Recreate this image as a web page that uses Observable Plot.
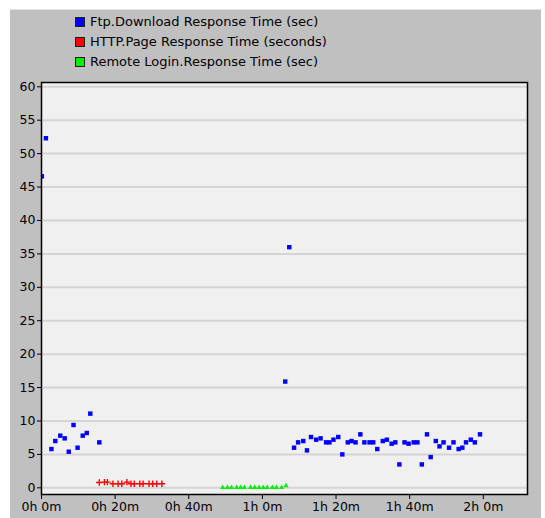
<!DOCTYPE html>
<html>
<head>
<meta charset="utf-8">
<script src="https://cdn.jsdelivr.net/npm/d3@7"></script>
<script src="https://cdn.jsdelivr.net/npm/@observablehq/plot@0.6"></script>
<style>
  html, body { margin: 0; padding: 0; background: #ffffff; }
  #page { position: relative; width: 545px; height: 518px; overflow: hidden; font-family: "DejaVu Sans", sans-serif; }
  #panel { position: absolute; left: 10px; top: 9px; width: 531px; height: 509px; background: #c0c0c0; border-top: 1px solid #e6e6e6; }
  #legend { position: relative; height: 72px; }
  .row { position: absolute; left: 75px; height: 20px; line-height: 20px; font-size: 13px; color: #000; white-space: nowrap; }
  .sw { display: inline-block; width: 8px; height: 8px; border: 1px solid #202020; vertical-align: -1px; margin-right: 5px; }
  #chart { position: relative; }
</style>
</head>
<body>
<div id="page">
  <div id="panel"></div>
  <div id="legend"></div>
  <div id="chart"></div>
</div>
<script>
// ---- data (x in minutes, y in seconds) ----
const seriesNames = ["Ftp.Download Response Time (sec)", "HTTP.Page Response Time (seconds)", "Remote Login.Response Time (sec)"];
const seriesColors = ["#0000ff", "#ff0000", "#00ee00"];

const ftpMinutes = [0.1, 1.2, 2.7, 3.75, 5.1, 6.3, 7.4, 8.7, 9.8, 11.2, 12.3, 13.25, 15.7,
  66.2, 67.3,
  68.6, 69.7, 71.1, 72.1, 73.2, 74.6, 75.8, 77.3, 78.2, 79.3, 80.6, 81.7, 83.2, 84.2, 85.3, 86.6, 87.7, 89.1, 90.1, 91.2, 92.7, 93.8,
  95.1, 96.1, 97.2, 98.6, 99.7, 101.1, 102.1, 103.3, 104.7, 105.7, 107.1, 108.1, 109.2, 110.7, 111.9, 113.3, 114.3, 115.3, 116.6, 117.7, 119.1];
const ftpSeconds = [46.6, 52.3, 5.8, 7.0, 7.8, 7.4, 5.4, 9.4, 6.0, 7.8, 8.2, 11.1, 6.8,
  15.9, 36.0,
  6.0, 6.8, 7.0, 5.6, 7.6, 7.2, 7.4, 6.8, 6.8, 7.2, 7.6, 5.0, 6.8, 7.0, 6.8, 8.0, 6.8, 6.8, 6.8, 5.8, 7.0, 7.2,
  6.6, 6.8, 3.5, 6.8, 6.6, 6.8, 6.8, 3.5, 8.0, 4.6, 7.0, 6.2, 6.8, 6.0, 6.8, 5.8, 6.0, 6.8, 7.2, 6.8, 8.0];

const httpMinutes = [15.7, 17.1, 17.9, 19.4, 20.8, 21.8, 23.2, 24.3, 25.2, 26.7, 27.6, 29.2, 30.2, 31.3, 32.7];
const httpSeconds = [0.8, 0.85, 0.85, 0.6, 0.6, 0.6, 0.85, 0.6, 0.6, 0.6, 0.6, 0.6, 0.6, 0.6, 0.6];

const remoteMinutes = [49.2, 50.5, 51.6, 53.0, 54.1, 55.1, 56.8, 57.9, 59.1, 60.2, 61.3, 62.7, 63.8, 65.2, 66.4];
const remoteSeconds = [0.05, 0.05, 0.05, 0.05, 0.05, 0.05, 0.05, 0.05, 0.05, 0.05, 0.05, 0.05, 0.05, 0.05, 0.3];

const xTickValues = [0, 20, 40, 60, 80, 100, 120];
const xTickLabels = ["0h 0m", "0h 20m", "0h 40m", "1h 0m", "1h 20m", "1h 40m", "2h 0m"];
const yTickValues = [0, 5, 10, 15, 20, 25, 30, 35, 40, 45, 50, 55, 60];

// ---- legend ----
const legend = document.getElementById("legend");
seriesNames.forEach((name, i) => {
  const row = document.createElement("div");
  row.className = "row";
  row.style.top = (12 + i * 20) + "px";
  const sw = document.createElement("span");
  sw.className = "sw";
  sw.style.background = seriesColors[i];
  row.appendChild(sw);
  row.appendChild(document.createTextNode(name));
  legend.appendChild(row);
});

// ---- tables ----
const ftp = ftpMinutes.map((m, i) => ({m, s: ftpSeconds[i]}));
const http = httpMinutes.map((m, i) => ({m, s: httpSeconds[i]}));
const remote = remoteMinutes.map((m, i) => ({m, s: remoteSeconds[i]}));

const chart = Plot.plot({
  width: 545,
  height: 446,
  marginLeft: 41,
  marginRight: 18,
  marginTop: 10,
  marginBottom: 24,
  style: {background: "transparent", fontFamily: "DejaVu Sans, sans-serif", fontSize: "12px", color: "#000"},
  x: {domain: [0, 132], label: null},
  y: {domain: [-1.0, 60.64], label: null},
  marks: [
    Plot.frame({fill: "#f0f0f0", stroke: null}),
    Plot.gridY(yTickValues, {stroke: "#d4d4d4", strokeOpacity: 1, strokeWidth: 2}),
    Plot.axisX(xTickValues, {tickSize: 5, tickPadding: 3, tickFormat: (d) => xTickLabels[xTickValues.indexOf(d)], stroke: "#000", fill: "#000", fontSize: 12.5}),
    Plot.axisY(yTickValues, {tickSize: 4, tickPadding: 2, stroke: "#000", fill: "#000", fontSize: 12.5}),
    Plot.dot(remote, {x: "m", y: "s", symbol: "triangle2", r: 2.5, fill: seriesColors[2], stroke: null, clip: true}),
    Plot.dot(http, {x: "m", y: "s", symbol: "plus", r: 2.2, stroke: seriesColors[1], strokeWidth: 1.4, fill: "none", clip: true}),
    Plot.dot(ftp, {x: "m", y: "s", symbol: "square", r: 2.5, fill: seriesColors[0], stroke: null, clip: true}),
    Plot.frame({stroke: "#000", strokeWidth: 1.5, fill: null})
  ]
});
document.getElementById("chart").appendChild(chart);
</script>
</body>
</html>
